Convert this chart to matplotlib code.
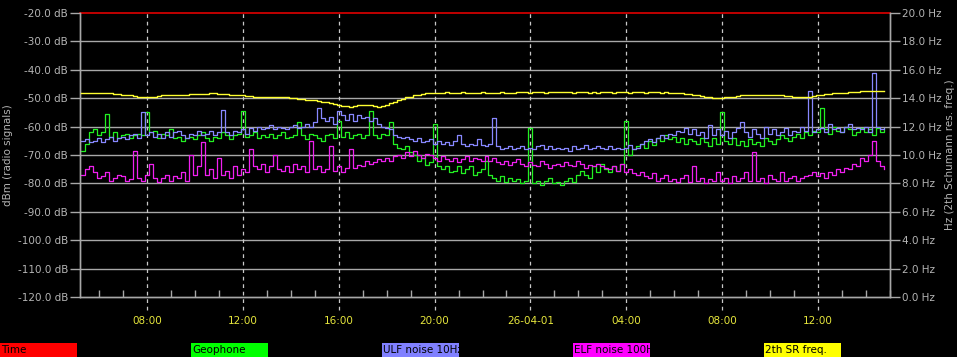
import numpy as np
import pandas as pd
import matplotlib
matplotlib.use("Agg")
from matplotlib import pyplot as plt
import matplotlib.dates as mdates
from matplotlib.patches import Rectangle

#############################################################
# Data (10 min samples)
#############################################################
T_START = "2026-03-31 05:15"
N_SAMPLES = 202

ulf_db = [
    -65, -64.5, -65.5, -65, -64, -65.5, -64.5, -63.5, -65, -64,
    -63.5, -64.5, -63, -62.5, -64, -55, -63, -62, -63.5, -62.5,
    -64, -62, -63.5, -62, -61.5, -63, -64, -62.5, -63, -61.5,
    -63, -62.5, -61.5, -63, -62, -54, -62, -63, -61.5, -62,
    -61, -62.5, -60.5, -61.5, -60, -61, -60.5, -59.5, -61, -60,
    -60.5, -61, -60, -59.5, -60.5, -60, -59, -60, -58.5, -53.5,
    -57, -58, -56.5, -59, -54.5, -56, -57.5, -55.5, -58, -56,
    -57, -56.5, -58, -57, -59, -60, -60.5, -61, -63, -63.5,
    -64, -63.5, -64.5, -65, -64, -65.5, -65, -64.5, -66, -65,
    -66, -65.5, -66.5, -65, -63, -66, -67, -66, -66.5, -64.5,
    -66.5, -67, -66, -57, -67, -68, -67.5, -67, -68, -67.5,
    -67, -68, -67.5, -68, -67, -66.5, -68, -67, -68, -67.5,
    -68, -67.5, -68.5, -67, -68, -67.5, -66.5, -68, -67.5, -67,
    -67.5, -68, -67, -68, -67.5, -68, -67.5, -66.5, -68, -67.5,
    -66, -65, -64.5, -65.5, -64, -63, -64, -62.5, -63, -61.5,
    -62, -60.5, -62.5, -61, -63, -62, -64, -59.5, -63, -61,
    -63, -61.5, -64, -62, -60.5, -58.5, -62, -63.5, -61, -62.5,
    -64, -60, -62.5, -61, -63, -62, -60.5, -63, -61.5, -62,
    -60, -61.5, -47.5, -62, -61, -60.5, -62, -59, -61, -60.5,
    -62, -60, -59, -61, -60.5, -61, -60, -62, -41, -60,
    -61, -60.5,
]

geo_db = [
    -68.5, -66, -62, -61, -63, -62, -55.5, -63.5, -62, -64,
    -63, -62.5, -64, -63, -62.5, -63, -55, -62, -61.5, -64,
    -62.5, -63, -61, -64, -63.5, -65, -64, -63.5, -64.5, -63,
    -62, -64, -65, -63.5, -64, -62, -63, -64.5, -63, -62.5,
    -54.5, -63.5, -63, -62, -64, -63, -63.5, -62.5, -64, -63,
    -62, -64, -63.5, -63, -58.5, -63, -64.5, -62.5, -63, -64,
    -65, -63, -62.5, -64, -58, -63.5, -62, -64, -63, -62.5,
    -64, -63, -54.5, -63, -64, -62.5, -63, -58.5, -66, -67.5,
    -68, -67, -69, -70, -72, -71, -73.5, -72.5, -59, -74,
    -75, -74, -76, -75.5, -74, -76.5, -75, -74, -77, -76,
    -75, -72, -77, -78, -79, -77.5, -79.5, -78, -79, -78.5,
    -80, -79, -60.5, -80, -79, -80.5, -79, -78, -80, -79.5,
    -80.5, -79, -78, -79.5, -77, -75.5, -77, -78, -74, -76,
    -73, -75, -76, -74, -75.5, -73, -58, -70, -68, -67,
    -66, -67.5, -65, -66.5, -64, -65, -63, -64.5, -63.5, -65.5,
    -64, -66, -64.5, -65, -66, -64, -65.5, -67, -64, -66,
    -55, -65, -66, -64, -66.5, -65, -67, -64.5, -66, -65.5,
    -67, -64, -65, -66, -64.5, -63, -64, -65, -63.5, -62.5,
    -64, -62, -63, -61.5, -62, -53.5, -61, -62.5, -60, -61.5,
    -62, -60, -61, -63, -62, -60.5, -62, -61, -63, -60.5,
    -62, -61,
]

elf_db = [
    -77, -75, -74, -76, -78, -77.5, -76, -79, -78, -77,
    -77.5, -79, -78.5, -68.5, -78, -79, -77, -73, -78, -79.5,
    -78, -77, -79, -77.5, -78, -76, -79, -70, -77, -74,
    -65.5, -77, -75, -78, -71, -77, -75.5, -78, -74, -77,
    -75, -76, -68, -74, -75, -73, -76, -74, -70, -75,
    -75.5, -74, -76, -73, -75, -74, -76, -65, -75, -74,
    -76, -75, -67, -75.5, -74, -76, -74.5, -68, -74.5, -73.5,
    -74, -72, -73, -72.5, -71.5, -72, -71, -72, -70.5, -70,
    -71, -69, -70.5, -68.5, -70, -71, -69.5, -70, -71, -72,
    -70.5, -71.5, -72, -71, -72.5, -71.5, -70.5, -72, -71, -71.5,
    -72, -70.5, -72, -71, -72.5, -73, -72, -73.5, -72.5, -71.5,
    -73, -74, -72.5, -73.5, -74, -72, -73, -74.5, -73.5, -73,
    -74, -72.5, -73.5, -74, -72, -73, -74.5, -73.5, -74, -73,
    -74, -74.5, -75, -74, -75.5, -73, -76, -75, -76.5, -77,
    -76, -77.5, -78, -76.5, -79, -78, -77, -79, -78.5, -79.5,
    -78, -77, -79.5, -74, -79, -78, -80, -78.5, -79, -76,
    -79, -78, -80, -77.5, -79, -78, -76, -79, -69, -79,
    -78, -80, -77, -78.5, -79, -76, -79, -78, -77.5, -79,
    -78, -77.5, -77, -76, -77.5, -76.5, -78, -76, -77, -75,
    -76, -74.5, -75, -73, -74, -71, -72, -70, -65, -72,
    -74, -75,
]

sr_hz = [
    14.4, 14.4, 14.4, 14.38, 14.38, 14.35, 14.35, 14.35, 14.3, 14.3,
    14.25, 14.2, 14.2, 14.15, 14.1, 14.1, 14.05, 14.05, 14.1, 14.15,
    14.2, 14.2, 14.25, 14.25, 14.2, 14.25, 14.25, 14.3, 14.3, 14.3,
    14.3, 14.3, 14.35, 14.35, 14.3, 14.3, 14.3, 14.25, 14.25, 14.2,
    14.2, 14.15, 14.15, 14.1, 14.1, 14.1, 14.1, 14.1, 14.05, 14.05,
    14.05, 14.05, 14.0, 14.0, 13.95, 13.95, 13.9, 13.85, 13.85, 13.8,
    13.75, 13.7, 13.65, 13.6, 13.5, 13.45, 13.45, 13.4, 13.45, 13.5,
    13.5, 13.55, 13.5, 13.45, 13.4, 13.45, 13.55, 13.65, 13.75, 13.85,
    13.95, 14.05, 14.1, 14.2, 14.25, 14.3, 14.35, 14.35, 14.38, 14.4,
    14.4, 14.42, 14.4, 14.38, 14.4, 14.42, 14.4, 14.4, 14.38, 14.4,
    14.42, 14.4, 14.38, 14.4, 14.4, 14.42, 14.4, 14.38, 14.4, 14.42,
    14.45, 14.42, 14.4, 14.42, 14.45, 14.42, 14.4, 14.42, 14.45, 14.42,
    14.45, 14.42, 14.45, 14.4, 14.42, 14.45, 14.42, 14.4, 14.42, 14.4,
    14.42, 14.45, 14.42, 14.4, 14.42, 14.45, 14.42, 14.4, 14.42, 14.45,
    14.42, 14.4, 14.42, 14.45, 14.42, 14.4, 14.42, 14.4, 14.4, 14.38,
    14.35, 14.3, 14.3, 14.25, 14.2, 14.15, 14.1, 14.05, 14.0, 14.0,
    14.0, 14.05, 14.05, 14.1, 14.15, 14.2, 14.2, 14.2, 14.25, 14.2,
    14.25, 14.2, 14.2, 14.25, 14.2, 14.2, 14.15, 14.15, 14.1, 14.1,
    14.1, 14.05, 14.1, 14.15, 14.2, 14.25, 14.3, 14.3, 14.35, 14.4,
    14.4, 14.4, 14.42, 14.45, 14.45, 14.5, 14.5, 14.5, 14.5, 14.5,
    14.5, 14.5,
]

legend_names = ["Time", "Geophone", "ULF noise 10Hz", "ELF noise 100H", "2th SR freq."]
legend_colors = ["#ff0000", "#00ff00", "#8080ff", "#ff00ff", "#ffff00"]

#############################################################
# Plot
#############################################################
GRID = "#a8a8a8"
TXT = "#b4b4b4"
XLBL = "#e6e63c"

t = pd.date_range(T_START, periods=N_SAMPLES, freq="10min")

fig = plt.figure(figsize=(9.57, 3.57), dpi=100, facecolor="black")
ax = fig.add_axes([80/957, 60/357, 810/957, 284/357], facecolor="black")
ax2 = ax.twinx()

ax.set_ylim(-120, -20)
ax2.set_ylim(0, 20)
ax.set_xlim(pd.Timestamp("2026-03-31 05:12:30"), pd.Timestamp("2026-04-01 15:00"))

for v in range(-110, -20, 10):
    ax.axhline(v, color=GRID, lw=1.0, zorder=1)
ax.axhline(-20, color="#e00000", lw=1.2, zorder=1, clip_on=False)

ax.plot(t, geo_db, color="#22f022", lw=0.9, drawstyle="steps-post", zorder=3)
ax.plot(t, ulf_db, color="#8888ff", lw=0.9, drawstyle="steps-post", zorder=3)
ax.plot(t, elf_db, color="#f020f0", lw=0.9, drawstyle="steps-post", zorder=3)
ax2.plot(t, sr_hz, color="#ffff30", lw=1.0, drawstyle="steps-post", zorder=3)

ax.xaxis.set_major_locator(mdates.HourLocator(byhour=[0, 4, 8, 12, 16, 20]))
ax.xaxis.set_minor_locator(mdates.HourLocator())


def fmt_time(x, pos=None):
    d = mdates.num2date(x)
    if d.hour == 0:
        return d.strftime("%y-%m-%d")
    return d.strftime("%H:%M")


ax.xaxis.set_major_formatter(plt.FuncFormatter(fmt_time))
for xt in ax.get_xticks():
    ax.plot([xt, xt], [-0.045, 1.0], transform=ax.get_xaxis_transform(),
            color="#c8c8c8", lw=0.9, ls=(0, (3, 3)), clip_on=False, zorder=2)

ax.tick_params(axis="x", which="major", length=0, pad=14, labelsize=7.5, labelcolor=XLBL)
ax.tick_params(axis="x", which="minor", direction="in", length=5, color=GRID, width=1)
ax.set_yticks(range(-120, -19, 10))
ax.set_yticklabels(["%.1f dB" % v for v in range(-120, -19, 10)])
ax.tick_params(axis="y", length=7, width=1, color=GRID, pad=1.5, labelsize=7.5, labelcolor=TXT)
ax2.set_yticks(range(0, 21, 2))
ax2.set_yticklabels(["%.1f Hz" % v for v in range(0, 21, 2)])
ax2.tick_params(axis="y", length=7, width=1, color=GRID, pad=1.5, labelsize=7.5, labelcolor=TXT)

for a in (ax, ax2):
    a.spines["top"].set_visible(False)
    for s in ("left", "right", "bottom"):
        a.spines[s].set_color(GRID)
        a.spines[s].set_linewidth(1)

fig.text(8/957, (357-155)/357, "dBm (radio signals)", rotation=90,
         ha="center", va="center", color=TXT, fontsize=7.5)
fig.text(950/957, (357-155)/357, "Hz (2th Schumann res. freq.)", rotation=90,
         ha="center", va="center", color=TXT, fontsize=7.5)

# legend boxes along the bottom
for k, (name, col) in enumerate(zip(legend_names, legend_colors)):
    x0 = k*191/957
    fig.add_artist(Rectangle((x0, 0), 77/957, 14/357, transform=fig.transFigure,
                             facecolor=col, edgecolor="none"))
    fig.text(x0 + 1/957, 7/357, name, color="black", fontsize=7.5, ha="left", va="center")

fig.savefig("out.png", dpi=100, facecolor="black")
